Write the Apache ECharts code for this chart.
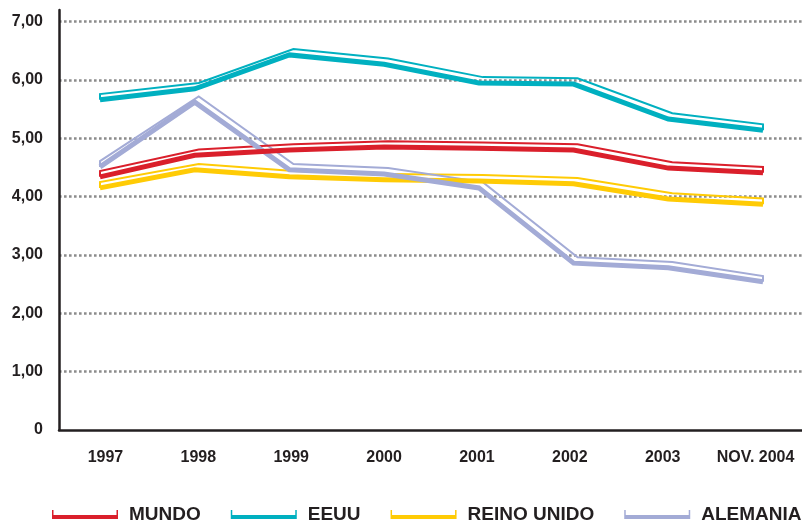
<!DOCTYPE html>
<html>
<head>
<meta charset="utf-8">
<script src="https://cdn.jsdelivr.net/npm/echarts@6/dist/echarts.min.js"></script>
<style>
  html, body { margin: 0; padding: 0; background: #fff; }
  #chart { width: 802px; height: 523px; }
</style>
</head>
<body>
<div id="chart"></div>
<script>
// values
const years = ['1997', '1998', '1999', '2000', '2001', '2002', '2003', 'NOV. 2004'];
const mundo = [4.34, 4.71, 4.80, 4.85, 4.83, 4.80, 4.49, 4.41];
const eeuu = [5.66, 5.85, 6.43, 6.27, 5.95, 5.93, 5.33, 5.14];
const reinoUnido = [4.15, 4.46, 4.34, 4.29, 4.27, 4.22, 3.96, 3.87];
const alemania = [4.51, 5.62, 4.46, 4.39, 4.15, 2.86, 2.78, 2.54];

const FONT = 'Liberation Sans';
const INK = '#231f20';
const YMAX = 7.2;

const lines = [
  { name: 'REINO UNIDO', color: '#ffcb05', data: reinoUnido },
  { name: 'ALEMANIA', color: '#a3abd6', data: alemania },
  { name: 'MUNDO', color: '#da1f2b', data: mundo },
  { name: 'EEUU', color: '#00b0c0', data: eeuu }
];

const chart = echarts.init(document.getElementById('chart'), null, { renderer: 'canvas' });

// grid 0: frame, grid lines and labels; grid 1: the ribbons
const grids = [
  { left: 59, right: 0, top: 10, bottom: 93 },
  { left: 100, right: 39, top: 10, bottom: 93 }
];

// thin upper edge of a ribbon: drawn once, offset up (and right at the bends), closed at both ends
function ribbonTop(color) {
  return function (params, api) {
    if (params.dataIndexInside !== 0) return null;
    const n = params.dataInsideLength;
    const pts = [];
    for (let j = 0; j < n; j++) {
      const c = api.coord([api.value(0, j), api.value(1, j)]);
      const dx = (j === 0 || j === n - 1) ? 0 : 4;
      if (j === 0) pts.push([c[0], c[1]]);
      pts.push([c[0] + dx, c[1] - 5.8]);
      if (j === n - 1) pts.push([c[0], c[1]]);
    }
    return {
      type: 'polyline',
      shape: { points: pts },
      style: { stroke: color, lineWidth: 2, fill: null, lineJoin: 'miter' },
      silent: true
    };
  };
}

const series = [];
lines.forEach(l => {
  series.push({
    type: 'line', name: l.name, data: l.data, xAxisIndex: 1, yAxisIndex: 1,
    symbol: 'none', silent: true, color: l.color,
    lineStyle: { color: l.color, width: 5, join: 'miter', cap: 'butt' }
  });
  series.push({
    type: 'custom', name: l.name, xAxisIndex: 1, yAxisIndex: 1, color: l.color,
    data: l.data.map((v, i) => [i, v]),
    renderItem: ribbonTop(l.color)
  });
});

chart.setOption({
  animation: false,
  backgroundColor: '#fff',
  grid: grids,
  xAxis: [
    {
      type: 'category', gridIndex: 0, data: years, boundaryGap: true,
      axisLine: { show: true, lineStyle: { color: INK, width: 2.5 } },
      axisTick: { show: false },
      axisLabel: { interval: 0, margin: 20, color: INK, fontFamily: FONT, fontWeight: 'bold', fontSize: 16 }
    },
    { type: 'category', gridIndex: 1, data: years, boundaryGap: false, show: false }
  ],
  yAxis: [
    {
      type: 'value', gridIndex: 0, min: 0, max: YMAX, interval: 1,
      axisLine: { show: true, lineStyle: { color: INK, width: 2.5 } },
      axisTick: { show: false },
      axisLabel: {
        margin: 16, color: INK, fontFamily: FONT, fontWeight: 'bold', fontSize: 16,
        showMaxLabel: false,
        formatter: v => (v === 0 ? '0' : (Number.isInteger(v) ? v.toFixed(2).replace('.', ',') : ''))
      },
      splitLine: {
        show: true, showMinLine: false, showMaxLine: false,
        lineStyle: { color: '#8c8c8c', width: 2.6, type: [2.6, 2.4] }
      }
    },
    { type: 'value', gridIndex: 1, min: 0, max: YMAX, show: false, splitLine: { show: false } }
  ],
  legend: {
    data: ['MUNDO', 'EEUU', 'REINO UNIDO', 'ALEMANIA'],
    left: 52, top: 505, width: 760, padding: 0,
    itemGap: 30, itemWidth: 66, itemHeight: 9,
    icon: 'path://M0,0 L1.5,0 L1.5,5 L64.5,5 L64.5,0 L66,0 L66,9 L0,9 Z',
    itemStyle: { borderWidth: 0 },
    selectedMode: false,
    textStyle: { color: INK, fontFamily: FONT, fontWeight: 'bold', fontSize: 19, padding: [0, 0, 0, 6] }
  },
  series: series
});
</script>
</body>
</html>
